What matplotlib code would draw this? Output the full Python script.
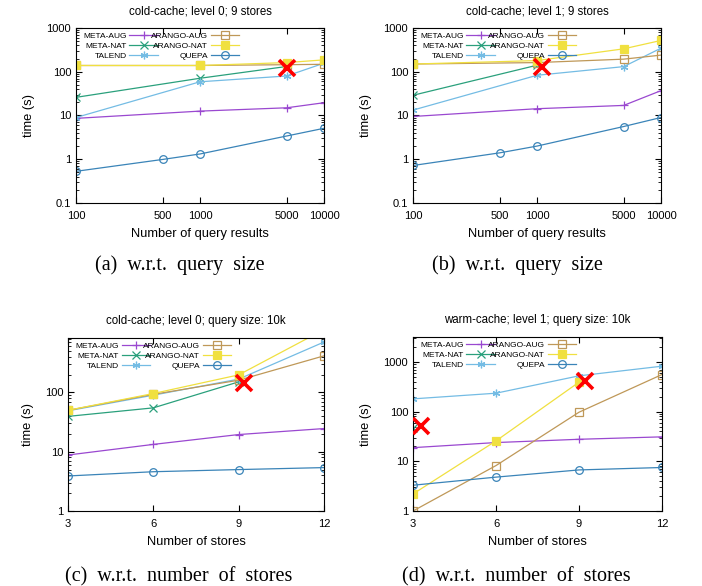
import matplotlib
matplotlib.use("Agg")
import matplotlib.pyplot as plt
from matplotlib.ticker import FixedLocator, FixedFormatter, LogLocator, NullFormatter

plt.rcParams['font.family'] = ['Liberation Sans', 'DejaVu Sans']

names = ["META-AUG", "META-NAT", "TALEND", "ARANGO-AUG", "ARANGO-NAT", "QUEPA"]
colors = ["#9a48d0", "#2aa07c", "#74bce4", "#bf9858", "#f0e040", "#3a84b8"]
markers = ["+", "x", (6, 2, 0), "s", "s", "o"]

# (a) cold-cache; level 0; 9 stores
a_x = {
    "META-AUG": [100, 1000, 5000, 10000],
    "META-NAT": [100, 1000, 5000],
    "TALEND": [100, 1000, 5000, 10000],
    "ARANGO-AUG": [100, 1000, 5000, 10000],
    "ARANGO-NAT": [100, 1000, 5000, 10000],
    "QUEPA": [100, 500, 1000, 5000, 10000],
}
a_y = {
    "META-AUG": [8.6, 12.6, 15, 19.6],
    "META-NAT": [26, 71, 132],
    "TALEND": [9.0, 59, 80, 157],
    "ARANGO-AUG": [139, 139, 145, 148],
    "ARANGO-NAT": [139, 139, 162, 187],
    "QUEPA": [0.53, 0.99, 1.32, 3.4, 5.1],
}
a_fail = (5000, 125)

# (b) cold-cache; level 1; 9 stores
b_x = {
    "META-AUG": [100, 1000, 5000, 10000],
    "META-NAT": [100, 1000],
    "TALEND": [100, 1000, 5000, 10000],
    "ARANGO-AUG": [100, 1000, 5000, 10000],
    "ARANGO-NAT": [100, 1000, 5000, 10000],
    "QUEPA": [100, 500, 1000, 5000, 10000],
}
b_y = {
    "META-AUG": [9.5, 14.3, 17, 37],
    "META-NAT": [29, 141],
    "TALEND": [13.3, 83, 131, 346],
    "ARANGO-AUG": [150, 162, 194, 240],
    "ARANGO-NAT": [150, 180, 334, 519],
    "QUEPA": [0.72, 1.4, 2.0, 5.6, 9.0],
}
b_fail = (1100, 131)

# (c) cold-cache; level 0; query size: 10k
c_x = {
    "META-AUG": [3, 6, 9, 12],
    "META-NAT": [3, 6, 9],
    "TALEND": [3, 6, 9, 12],
    "ARANGO-AUG": [3, 6, 9, 12],
    "ARANGO-NAT": [3, 6, 9, 12],
    "QUEPA": [3, 6, 9, 12],
}
c_y = {
    "META-AUG": [8.8, 13.3, 19.5, 24.6],
    "META-NAT": [39.5, 55, 151],
    "TALEND": [49, 90, 168, 710],
    "ARANGO-AUG": [50, 93, 161, 415],
    "ARANGO-NAT": [50, 96, 198, 1150],
    "QUEPA": [3.9, 4.6, 5.0, 5.4],
}
c_fail = (9.2, 142)

# (d) warm-cache; level 1; query size: 10k
d_x = {
    "META-AUG": [3, 6, 9, 12],
    "META-NAT": [3],
    "TALEND": [3, 6, 9, 12],
    "ARANGO-AUG": [3, 6, 9, 12],
    "ARANGO-NAT": [3, 6, 9],
    "QUEPA": [3, 6, 9, 12],
}
d_y = {
    "META-AUG": [18.8, 23.8, 27.7, 31],
    "META-NAT": [46],
    "TALEND": [180, 234, 523, 818],
    "ARANGO-AUG": [1.0, 8.2, 97, 556],
    "ARANGO-NAT": [2.2, 25.7, 390],
    "QUEPA": [3.3, 4.8, 6.7, 7.5],
}
d_fail = [(3.3, 52), (9.2, 414)]

titles = ["cold-cache; level 0; 9 stores", "cold-cache; level 1; 9 stores",
          "cold-cache; level 0; query size: 10k", "warm-cache; level 1; query size: 10k"]
captions = ["(a)  w.r.t.  query  size", "(b)  w.r.t.  query  size",
            "(c)  w.r.t.  number  of  stores", "(d)  w.r.t.  number  of  stores"]

W, H = 702, 586
fig = plt.figure(figsize=(W / 100, H / 100), dpi=100)


def px_axes(l, r, t, b):
    return fig.add_axes([l / W, 1 - b / H, (r - l) / W, (b - t) / H])


def draw(ax, xs, ys, fails):
    for n, c, m in zip(names, colors, markers):
        filled = n == "ARANGO-NAT"
        mfc = c if filled else "none"
        ms = 6 if m == "s" else 5.5
        ax.plot(xs[n], ys[n], color=c, lw=0.9, marker=m, ms=ms, mfc=mfc,
                mec=c, mew=0.9, label=n, clip_on=True)
    for fx, fy in fails:
        ax.plot([fx], [fy], marker="x", color="red", ms=11, mew=2.6, ls="none", zorder=10)
    ax.set_yscale("log")
    ax.tick_params(which="both", direction="in", top=True, right=True, labelsize=8)
    ax.tick_params(which="major", length=4)
    ax.tick_params(which="minor", length=2)
    ax.tick_params(axis="x", pad=6)
    ax.set_ylabel("time (s)", fontsize=9.3, labelpad=8)
    ax.yaxis.set_minor_locator(LogLocator(base=10, subs=range(2, 10), numticks=20))
    ax.yaxis.set_minor_formatter(NullFormatter())
    ax.legend(loc="upper left", bbox_to_anchor=(0.02, 0.99), ncol=2, markerfirst=False,
              frameon=False, fontsize=6, handlelength=3.4, handletextpad=0.3,
              labelspacing=0.25, columnspacing=-0.8, borderaxespad=0.1, borderpad=0.2)


def ylog_labels(ax, vals):
    ax.yaxis.set_major_locator(FixedLocator(vals))
    ax.yaxis.set_major_formatter(FixedFormatter([("%g" % v) for v in vals]))


qx = [100, 500, 1000, 5000, 10000]

ax1 = px_axes(76, 324, 28, 203)
draw(ax1, a_x, a_y, [a_fail])
ax2 = px_axes(413, 661, 28, 203)
draw(ax2, b_x, b_y, [b_fail])
for ax in (ax1, ax2):
    ax.set_xscale("log")
    ax.set_xlim(100, 10000)
    ax.set_ylim(0.1, 1000)
    ax.xaxis.set_major_locator(FixedLocator(qx))
    ax.xaxis.set_major_formatter(FixedFormatter([str(v) for v in qx]))
    ax.xaxis.set_minor_locator(FixedLocator([]))
    ylog_labels(ax, [0.1, 1, 10, 100, 1000])
    ax.set_xlabel("Number of query results", fontsize=9.3, labelpad=5)

ax3 = px_axes(68, 324, 338, 511)
draw(ax3, c_x, c_y, [c_fail])
ax3.set_ylim(1, 830)
ylog_labels(ax3, [1, 10, 100])
ax4 = px_axes(413, 662, 337, 511)
draw(ax4, d_x, d_y, d_fail)
ax4.set_ylim(1, 3160)
ylog_labels(ax4, [1, 10, 100, 1000])
for ax in (ax3, ax4):
    ax.set_xlim(3, 12)
    ax.set_xticks([3, 6, 9, 12])
    ax.set_xlabel("Number of stores", fontsize=9.3, labelpad=5)

for ax, t in zip((ax1, ax2, ax3, ax4), titles):
    ax.set_title(t, fontsize=8.3, pad=10)

cap_pos = [(180, 265), (517, 265), (179, 577), (516, 577)]
for (cx, cy), cap in zip(cap_pos, captions):
    fig.text(cx / W, 1 - cy / H, cap, ha="center", va="center", fontsize=14.5,
             family=["Liberation Serif", "DejaVu Serif"])

fig.savefig("out.png", dpi=100)
